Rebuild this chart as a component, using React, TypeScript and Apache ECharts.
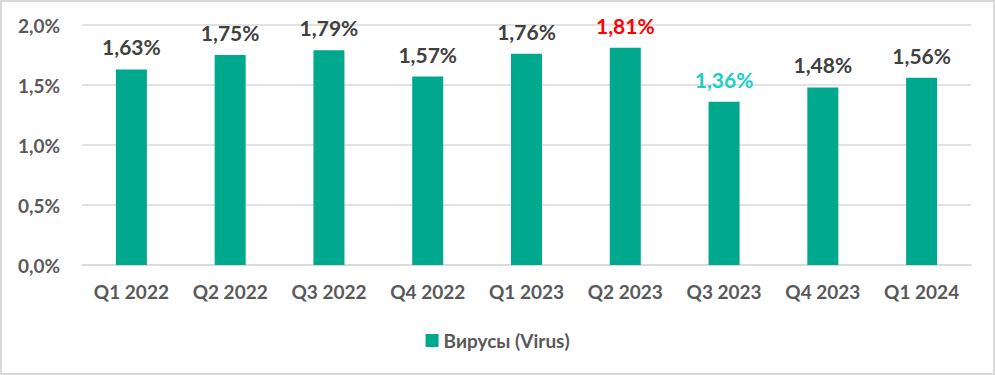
import React, { useEffect, useRef } from "react";
import * as echarts from "echarts";

const categories = ["Q1 2022", "Q2 2022", "Q3 2022", "Q4 2022", "Q1 2023", "Q2 2023", "Q3 2023", "Q4 2023", "Q1 2024"];
const values = [1.63, 1.75, 1.79, 1.57, 1.76, 1.81, 1.36, 1.48, 1.56];
const labelColors = ["#404040", "#404040", "#404040", "#404040", "#404040", "#FF0000", "#1BCFC4", "#404040", "#404040"];
const seriesName = "Вирусы (Virus)";

const fmt = (v: number, d: number) => v.toFixed(d).replace(".", ",") + "%";

export default function App() {
  const ref = useRef<HTMLDivElement>(null);
  useEffect(() => {
    const chart = echarts.init(ref.current!, undefined, { renderer: "svg" });
    chart.setOption({
      animation: false,
      textStyle: { fontFamily: "Lato, 'Open Sans', sans-serif" },
      grid: { left: 82, right: 24, top: 25, bottom: 110 },
      legend: {
        bottom: 20,
        left: "center",
        itemWidth: 13,
        itemHeight: 13,
        itemGap: 6,
        icon: "rect",
        textStyle: { fontSize: 19, fontWeight: "bold", color: "#595959", fontFamily: "Lato, sans-serif" },
        data: [seriesName],
      },
      xAxis: {
        type: "category",
        data: categories,
        axisLine: { show: true, lineStyle: { color: "#D9D9D9", width: 1.5 } },
        axisTick: { show: false },
        axisLabel: { fontSize: 19, fontWeight: "bold", color: "#595959", margin: 17 },
      },
      yAxis: {
        type: "value",
        min: 0,
        max: 2,
        interval: 0.5,
        axisLine: { show: false },
        axisTick: { show: false },
        splitLine: { lineStyle: { color: "#D9D9D9", width: 1.5 } },
        axisLabel: { fontSize: 19, fontWeight: "bold", color: "#595959", margin: 22, formatter: (v: number) => fmt(v, 1) },
      },
      series: [
        {
          name: seriesName,
          type: "bar",
          barWidth: 31,
          itemStyle: { color: "#00A88E" },
          data: values.map((v, i) => ({
            value: v,
            label: { color: labelColors[i] },
          })),
          label: {
            show: true,
            position: "top",
            distance: 12,
            fontSize: 21,
            fontWeight: "bold",
            formatter: (p: any) => fmt(p.value, 2),
          },
        },
      ],
    });
    return () => chart.dispose();
  }, []);
  return (
    <div
      style={{
        position: "absolute",
        left: 0,
        top: 0,
        width: 995,
        height: 375,
        boxSizing: "border-box",
        border: "2px solid #D9D9D9",
        background: "#fff",
      }}
    >
      <div ref={ref} style={{ position: "absolute", left: -2, top: -2, width: 995, height: 375 }} />
    </div>
  );
}
